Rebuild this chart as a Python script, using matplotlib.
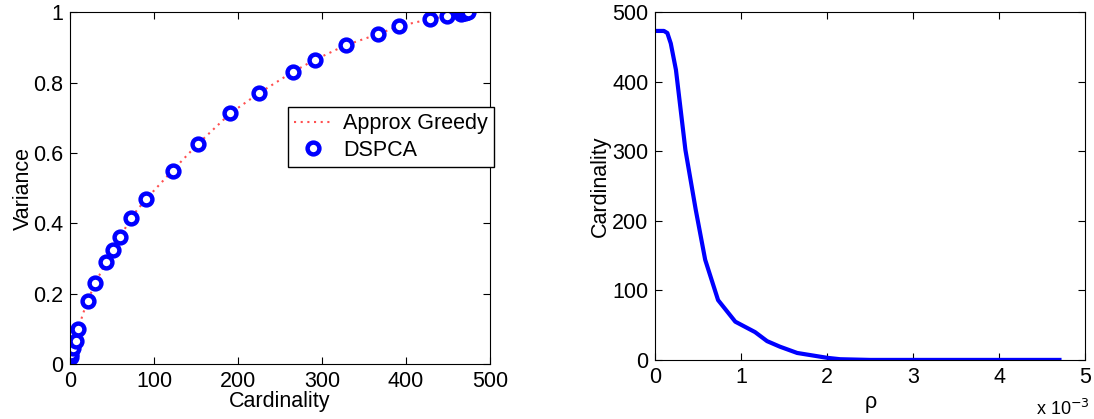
import matplotlib
matplotlib.use("Agg")
import matplotlib.pyplot as plt
from matplotlib.ticker import FuncFormatter

plt.rcParams["font.family"] = ["Liberation Sans", "DejaVu Sans"]
plt.rcParams["font.size"] = 15.5

# left panel: variance vs cardinality
dspca_card = [1, 1.5, 3, 7, 10, 21, 30, 43, 51, 60, 72, 91, 122, 152, 191, 225,
              265, 291, 328, 366, 391, 428, 449, 465, 468, 470, 472, 474]
dspca_var = [0.02, 0.03, 0.045, 0.065, 0.10, 0.18, 0.23, 0.29, 0.325, 0.36, 0.415,
             0.47, 0.55, 0.625, 0.713, 0.77, 0.83, 0.864, 0.906, 0.937, 0.96,
             0.98, 0.989, 0.996, 0.998, 0.999, 1.0, 1.0]
greedy_card = [1, 3, 7, 10, 15, 21, 30, 43, 51, 60, 72, 91, 122, 152, 191, 225,
               265, 291, 328, 366, 391, 428, 449, 465, 474]
greedy_var = [0.02, 0.045, 0.065, 0.10, 0.14, 0.18, 0.23, 0.29, 0.325, 0.36, 0.415,
              0.47, 0.55, 0.625, 0.713, 0.77, 0.83, 0.864, 0.906, 0.937, 0.96,
              0.98, 0.989, 0.996, 1.0]

# right panel: cardinality vs rho
rho = [0.0, 0.0001, 0.00014, 0.00018, 0.00024, 0.00035, 0.00041, 0.00047, 0.00058,
       0.00073, 0.00093, 0.00116, 0.0013, 0.00145, 0.00165, 0.0020, 0.00215,
       0.0025, 0.0030, 0.0040, 0.0047]
card = [473, 473, 470, 455, 417, 302, 259, 216, 144, 86, 55, 40, 27, 19, 10, 3, 1,
        0, 0, 0, 0]

fig = plt.figure(figsize=(10.94, 4.19), dpi=100)
ax1 = fig.add_axes([0.064, 0.131, 0.384, 0.840])
ax2 = fig.add_axes([0.599, 0.141, 0.393, 0.830])

ax1.plot(greedy_card, greedy_var, color="#ff5050", linestyle=(0, (1, 2.2)),
         linewidth=1.5, label="Approx Greedy")
ax1.plot(dspca_card, dspca_var, linestyle="none", marker="o", markersize=8.5,
         markerfacecolor="white", markeredgecolor="blue", markeredgewidth=3.2,
         label="DSPCA")
ax1.set_xlim(0, 500)
ax1.set_ylim(0, 1)
ax1.set_xticks([0, 100, 200, 300, 400, 500])
ax1.set_yticks([0, 0.2, 0.4, 0.6, 0.8, 1])
ax1.yaxis.set_major_formatter(FuncFormatter(lambda v, p: "%g" % v))
ax1.set_xlabel("Cardinality", labelpad=-1)
ax1.set_ylabel("Variance", labelpad=-1)
ax1.legend(loc="upper right", bbox_to_anchor=(494 / 1094, 1 - 107 / 419),
           bbox_transform=fig.transFigure, borderaxespad=0, fancybox=False,
           edgecolor="black", framealpha=1, handlelength=1.75, handletextpad=0.5,
           borderpad=0.3, labelspacing=0.25)

ax2.plot(rho, card, color="blue", linewidth=3)
ax2.set_xlim(0, 0.005)
ax2.set_ylim(0, 500)
ax2.set_xticks([0, 0.001, 0.002, 0.003, 0.004, 0.005])
ax2.xaxis.set_major_formatter(FuncFormatter(lambda v, p: "%g" % round(v * 1000, 6)))
ax2.set_yticks([0, 100, 200, 300, 400, 500])
ax2.set_xlabel("\u03c1", labelpad=3)
ax2.set_ylabel("Cardinality", labelpad=1)
fig.text(1090 / 1094, 10 / 419, "x 10$^{-3}$", ha="right", va="center",
         fontsize=13)

for ax in (ax1, ax2):
    ax.tick_params(direction="in", top=True, right=True, length=5, width=0.8,
                   pad=5)
    for s in ax.spines.values():
        s.set_linewidth(0.8)

fig.savefig("out.png", dpi=100)
